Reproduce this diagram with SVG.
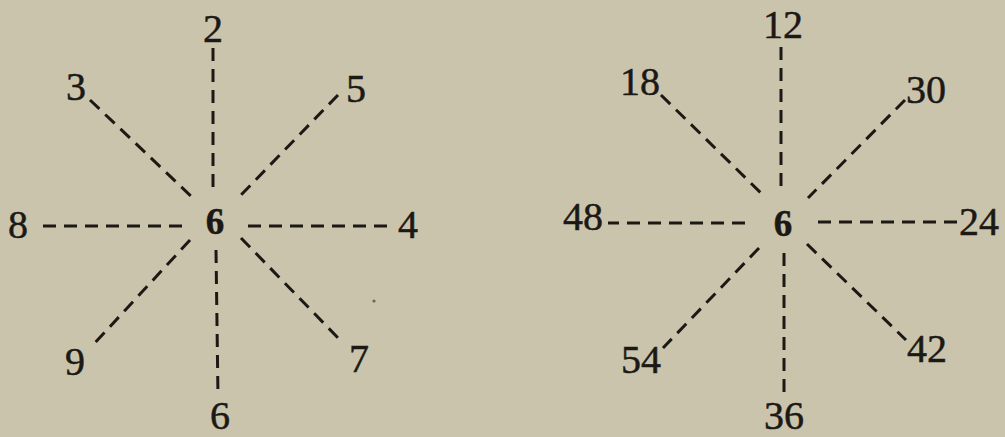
<svg xmlns="http://www.w3.org/2000/svg" width="1005" height="437" viewBox="0 0 1005 437">
<style>
.bg{fill:#cbc4ad}
.c line{stroke:#1c1915;stroke-width:3;stroke-dasharray:13 8;stroke-linecap:butt;fill:none}
text{font-family:"Liberation Serif","Times New Roman",serif;font-size:40px;fill:#1c1915;stroke:#1c1915;stroke-width:0.5;text-anchor:middle}
text.ctr{font-weight:bold;font-size:37px}
</style>
<rect class="bg" x="0" y="0" width="1005" height="437"/>
<g id="connectors" class="c">
<line x1="213" y1="48" x2="213" y2="192"/>
<line x1="90" y1="100" x2="193" y2="198"/>
<line x1="338" y1="95" x2="241" y2="195"/>
<line x1="182" y1="226" x2="38" y2="226"/>
<line x1="248" y1="226" x2="394" y2="226"/>
<line x1="190" y1="240" x2="93" y2="345"/>
<line x1="216" y1="250" x2="218" y2="397"/>
<line x1="241" y1="238" x2="343" y2="343"/>
<line x1="781" y1="47" x2="781" y2="188"/>
<line x1="661" y1="95" x2="763" y2="195"/>
<line x1="905" y1="100" x2="808" y2="198"/>
<line x1="745" y1="223" x2="608" y2="223"/>
<line x1="818" y1="222" x2="958" y2="222"/>
<line x1="759" y1="248" x2="663" y2="348"/>
<line x1="784" y1="253" x2="784" y2="397"/>
<line x1="807" y1="244" x2="906" y2="340"/>
</g>
<g id="left-center"><text class="ctr" x="215" y="234">6</text></g>
<g id="n2"><text x="213" y="42">2</text></g>
<g id="n3"><text x="76" y="100">3</text></g>
<g id="n5"><text x="356" y="102">5</text></g>
<g id="n8"><text x="18" y="238">8</text></g>
<g id="n4"><text x="408" y="238">4</text></g>
<g id="n9"><text x="75" y="375">9</text></g>
<g id="n7"><text x="359" y="372">7</text></g>
<g id="n6b"><text x="220" y="429">6</text></g>
<g id="right-center"><text class="ctr" x="783" y="236">6</text></g>
<g id="n12"><text x="783" y="38">12</text></g>
<g id="n18"><text x="640" y="95">18</text></g>
<g id="n30"><text x="926" y="103">30</text></g>
<g id="n48"><text x="583" y="230">48</text></g>
<g id="n24"><text x="979" y="235">24</text></g>
<g id="n54"><text x="641" y="373">54</text></g>
<g id="n42"><text x="927" y="362">42</text></g>
<g id="n36"><text x="784" y="429">36</text></g>
<circle cx="374" cy="301" r="1.6" fill="#6a665c"/>
</svg>
